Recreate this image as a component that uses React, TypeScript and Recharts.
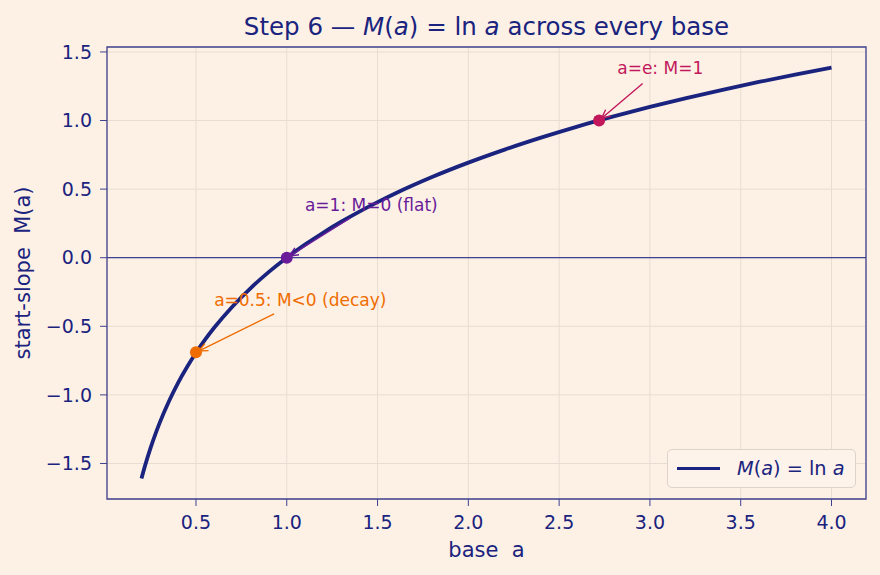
import React from 'react';
import {
  ComposedChart,
  Line,
  XAxis,
  YAxis,
  CartesianGrid,
  ReferenceLine,
  ReferenceDot,
  ReferenceArea,
} from 'recharts';

// curve M(a)
const baseA = [0.2, 0.22, 0.25, 0.28, 0.3, 0.35, 0.4, 0.45, 0.5, 0.55, 0.6, 0.7, 0.8, 0.9, 1.0, 1.1, 1.2, 1.3, 1.4, 1.5, 1.6, 1.8, 2.0, 2.2, 2.4, 2.6, 2.8, 3.0, 3.2, 3.4, 3.6, 3.8, 4.0];
const startSlope = [-1.609, -1.514, -1.386, -1.273, -1.204, -1.05, -0.916, -0.799, -0.693, -0.598, -0.511, -0.357, -0.223, -0.105, 0, 0.095, 0.182, 0.262, 0.336, 0.405, 0.47, 0.588, 0.693, 0.788, 0.875, 0.956, 1.03, 1.099, 1.163, 1.224, 1.281, 1.335, 1.386];

const xTicks = [0.5, 1.0, 1.5, 2.0, 2.5, 3.0, 3.5, 4.0];
const yTicks = [-1.5, -1.0, -0.5, 0.0, 0.5, 1.0, 1.5];
const xDomain = [0.01, 4.19];
const yDomain = [-1.759, 1.536];

// highlighted bases
const markA = [0.5, 1.0, 2.72];
const markM = [-0.69, 0, 1.0];
const noteLabels = ['a=0.5: M<0 (decay)', 'a=1: M=0 (flat)', 'a=e: M=1'];
const noteA = [0.6, 1.1, 2.82];
const noteM = [-0.35, 0.34, 1.34];
const tailA = [0.93, 1.35, 2.96];
const tailM = [-0.41, 0.29, 1.27];
const markColors = ['#ef6c00', '#6a1b9a', '#c2185b'];

const BG = '#fdf1e6';
const NAVY = '#1a237e';
const SPINE = '#3f4190';
const FONT = '"DejaVu Sans", sans-serif';

const data = baseA.map((a, i) => ({ a, m: startSlope[i] }));

const fmt = (v: number) => v.toFixed(1).replace('-', '\u2212');

const Arrow = (color: string) => (props: any) => {
  const { x1, y1, x2, y2 } = props;
  const dx = x2 - x1;
  const dy = y2 - y1;
  const len = Math.sqrt(dx * dx + dy * dy) || 1;
  const ux = dx / len;
  const uy = dy / len;
  const ex = x2 - ux * 3;
  const ey = y2 - uy * 3;
  const h = 9;
  const w = 4;
  const bx = ex - ux * h;
  const by = ey - uy * h;
  return (
    <g>
      <line x1={x1} y1={y1} x2={ex} y2={ey} stroke={color} strokeWidth={1.4} />
      <polyline
        points={`${bx - uy * w},${by + ux * w} ${ex},${ey} ${bx + uy * w},${by - ux * w}`}
        fill="none"
        stroke={color}
        strokeWidth={1.4}
      />
    </g>
  );
};

const NoteText = (text: string, color: string) => (props: any) => (
  <text x={props.cx} y={props.cy} fill={color} fontSize={17} fontFamily={FONT}>
    {text}
  </text>
);

const Italic = ({ children }: { children: React.ReactNode }) => (
  <span style={{ fontStyle: 'italic' }}>{children}</span>
);

export default function App() {
  return (
    <div style={{ position: 'relative', width: 880, height: 575, background: BG, fontFamily: FONT }}>
      <style>{`body{margin:0;background:${BG};}`}</style>
      <div
        style={{
          position: 'absolute',
          left: 107,
          width: 759,
          top: 12,
          textAlign: 'center',
          fontSize: 24.5,
          color: NAVY,
          whiteSpace: 'pre',
        }}
      >
        Step 6 — <Italic>M</Italic>(<Italic>a</Italic>) = ln <Italic>a</Italic> across every base
      </div>
      <ComposedChart width={880} height={575} data={data} margin={{ top: 47, right: 14, bottom: 16, left: 47 }}>
        <CartesianGrid stroke="#e8ddd1" strokeWidth={1} />
        <XAxis
          dataKey="a"
          type="number"
          domain={xDomain}
          allowDataOverflow
          ticks={xTicks}
          tickFormatter={fmt}
          height={60}
          axisLine={false}
          tickSize={7}
          tickMargin={10}
          tickLine={{ stroke: SPINE }}
          tick={{ fill: NAVY, fontSize: 19, fontFamily: FONT }}
          label={{
            content: (p: any) => (
              <text
                x={p.viewBox.x + p.viewBox.width / 2}
                y={p.viewBox.y + 58}
                textAnchor="middle"
                fill={NAVY}
                fontSize={21}
                fontFamily={FONT}
                style={{ whiteSpace: 'pre' }}
              >
                {'base  a'}
              </text>
            ),
          }}
        />
        <YAxis
          type="number"
          domain={yDomain}
          allowDataOverflow
          ticks={yTicks}
          tickFormatter={fmt}
          width={60}
          axisLine={false}
          tickSize={7}
          tickMargin={8}
          tickLine={{ stroke: SPINE }}
          tick={{ fill: NAVY, fontSize: 19, fontFamily: FONT }}
          label={{
            content: (p: any) => {
              const cx = p.viewBox.x - 24;
              const cy = p.viewBox.y + p.viewBox.height / 2;
              return (
                <text
                  x={cx}
                  y={cy}
                  transform={`rotate(-90, ${cx}, ${cy})`}
                  textAnchor="middle"
                  dominantBaseline="central"
                  fill={NAVY}
                  fontSize={21}
                  fontFamily={FONT}
                  style={{ whiteSpace: 'pre' }}
                >
                  {'start-slope  M(a)'}
                </text>
              );
            },
          }}
        />
        <ReferenceLine y={0} stroke={SPINE} strokeWidth={1.2} />
        <Line
          dataKey="m"
          type="monotone"
          stroke={NAVY}
          strokeWidth={3.8}
          dot={false}
          isAnimationActive={false}
        />
        {markA.map((a, i) => (
          <ReferenceLine
            key={`arrow-${i}`}
            segment={[
              { x: tailA[i], y: tailM[i] },
              { x: a, y: markM[i] },
            ]}
            shape={Arrow(markColors[i])}
          />
        ))}
        {markA.map((a, i) => (
          <ReferenceDot key={`dot-${i}`} x={a} y={markM[i]} r={6} fill={markColors[i]} stroke="none" />
        ))}
        {noteLabels.map((t, i) => (
          <ReferenceDot key={`note-${i}`} x={noteA[i]} y={noteM[i]} r={1} shape={NoteText(t, markColors[i])} />
        ))}
        <ReferenceArea
          x1={xDomain[0]}
          x2={xDomain[1]}
          y1={yDomain[0]}
          y2={yDomain[1]}
          fill="none"
          stroke={SPINE}
          strokeWidth={1.3}
          ifOverflow="visible"
        />
      </ComposedChart>
      <div
        style={{
          position: 'absolute',
          left: 667,
          top: 449,
          width: 187,
          height: 37,
          border: '1px solid #ddd3c9',
          borderRadius: 5,
          background: '#fdf3ea',
          display: 'flex',
          alignItems: 'center',
          fontSize: 19.3,
          color: NAVY,
        }}
      >
        <div style={{ width: 43, height: 3.5, background: NAVY, marginLeft: 9, marginRight: 17 }} />
        <span style={{ whiteSpace: 'pre' }}>
          <Italic>M</Italic>(<Italic>a</Italic>) = ln <Italic>a</Italic>
        </span>
      </div>
    </div>
  );
}
